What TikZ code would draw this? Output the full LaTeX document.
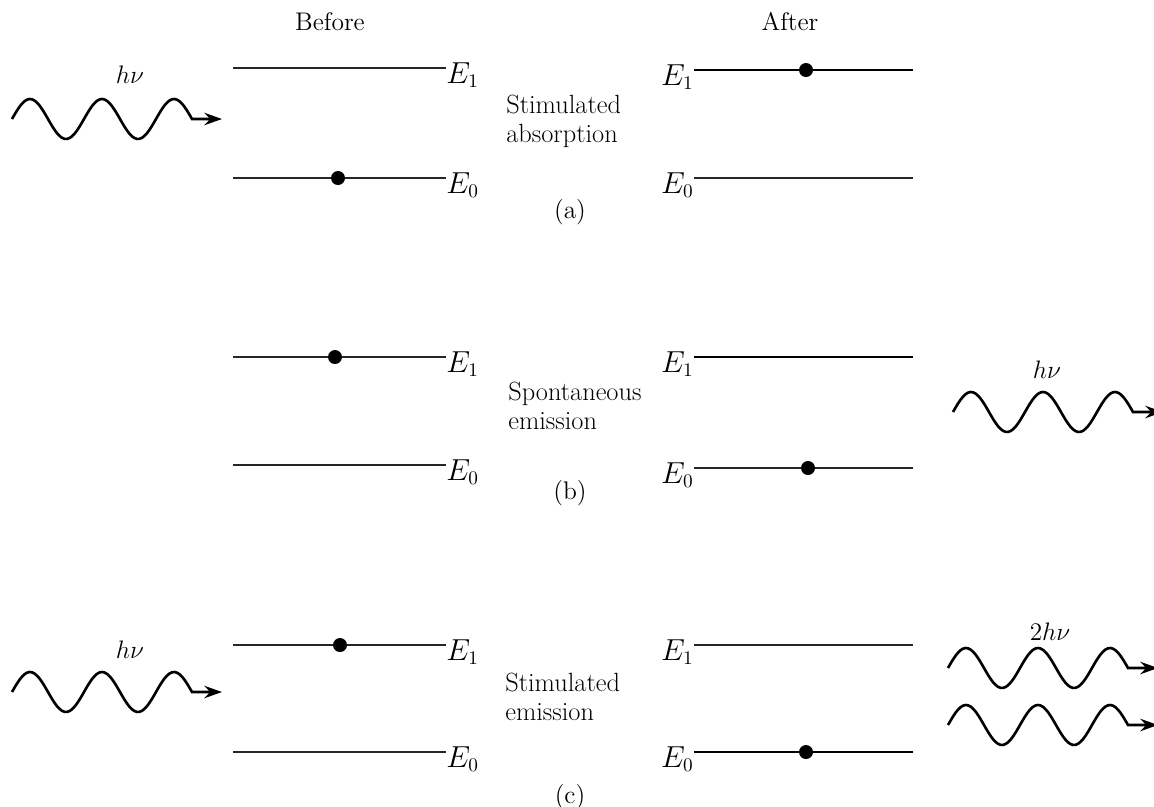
\documentclass[tikz,border=0pt]{standalone}
\usetikzlibrary{arrows.meta}
\tikzset{
    level/.style={line width=0.9pt, black!85},
    thicklevel/.style={line width=1.5pt, black},
    electron/.style={circle, fill=black, inner sep=0pt, minimum size=0.28cm},
    elabel/.style={inner sep=0pt, font=\fontsize{16}{18}\selectfont},
    caption/.style={align=left, inner sep=0pt, font=\fontsize{15}{16.5}\selectfont},
    title/.style={font=\fontsize{14.5}{16}\selectfont},
    photon/.style={line width=1.5pt, -{Stealth[length=10pt,width=7pt]}},
}
% wave of light: 2.5 periods, then a short straight piece with the arrow
\newcommand{\photonwave}[1]{%
    \draw[photon, shift={(#1)}] plot[domain=0:180, samples=73, smooth] (\x, {-20*sin(5*\x)}) -- ++(30,0);
}
\begin{document}
\begin{tikzpicture}[x=0.02cm, y=-0.02cm]
    \useasboundingbox (0,0) rectangle (1154,806);

    \node[title] (before) at (330,22) {Before};
    \node[title] (after) at (790,22) {After};

    % (a) stimulated absorption
    \coordinate (wa) at (12,119);
    \photonwave{wa}
    \node[title] (hva) at (130,75) {$h\nu$};
    \coordinate (aB1) at (233,68);
    \coordinate (aB0) at (233,178);
    \node[elabel, anchor=north west] (aBE1) at (446,62) {$E_1$};
    \node[elabel, anchor=north west] (aBE0) at (446,172) {$E_0$};
    \draw[level] (aB1) -- (aB1 -| aBE1.west);
    \draw[level] (aB0) -- (aB0 -| aBE0.west);
    \node[electron] (adotB) at (338,178) {};
    \node[caption, anchor=west] (capa) at (506,121) {Stimulated\\absorption};
    \node[title] (taga) at (570,212) {(a)};
    \coordinate (aA1) at (913,70);
    \coordinate (aA0) at (913,178);
    \node[elabel, anchor=north east] (aAE1) at (694,64) {$E_1$};
    \node[elabel, anchor=north east] (aAE0) at (694,172) {$E_0$};
    \draw[thicklevel] (aA1) -- (aA1 -| aAE1.east);
    \draw[level] (aA0) -- (aA0 -| aAE0.east);
    \node[electron] (adotA) at (806,70) {};

    % (b) spontaneous emission
    \coordinate (bB1) at (233,357);
    \coordinate (bB0) at (233,465);
    \node[elabel, anchor=north west] (bBE1) at (446,351) {$E_1$};
    \node[elabel, anchor=north west] (bBE0) at (446,459) {$E_0$};
    \draw[level] (bB1) -- (bB1 -| bBE1.west);
    \draw[level] (bB0) -- (bB0 -| bBE0.west);
    \node[electron] (bdotB) at (335,357) {};
    \node[caption, anchor=west] (capb) at (508,406) {Spontaneous\\emission};
    \node[title] (tagb) at (570,493) {(b)};
    \coordinate (bA1) at (913,357);
    \coordinate (bA0) at (913,468);
    \node[elabel, anchor=north east] (bAE1) at (694,351) {$E_1$};
    \node[elabel, anchor=north east] (bAE0) at (694,462) {$E_0$};
    \draw[thicklevel] (bA1) -- (bA1 -| bAE1.east);
    \draw[level] (bA0) -- (bA0 -| bAE0.east);
    \node[electron] (bdotA) at (808,468) {};
    \coordinate (wb) at (953,412);
    \photonwave{wb}
    \node[title] (hvb) at (1047,370) {$h\nu$};

    % (c) stimulated emission
    \coordinate (wc) at (12,692);
    \photonwave{wc}
    \node[title] (hvc) at (130,650) {$h\nu$};
    \coordinate (cB1) at (233,645);
    \coordinate (cB0) at (233,752);
    \node[elabel, anchor=north west] (cBE1) at (446,639) {$E_1$};
    \node[elabel, anchor=north west] (cBE0) at (446,746) {$E_0$};
    \draw[level] (cB1) -- (cB1 -| cBE1.west);
    \draw[level] (cB0) -- (cB0 -| cBE0.west);
    \node[electron] (cdotB) at (340,645) {};
    \node[caption, anchor=west] (capc) at (505,697) {Stimulated\\emission};
    \node[title] (tagc) at (570,797) {(c)};
    \coordinate (cA1) at (913,645);
    \coordinate (cA0) at (913,752);
    \node[elabel, anchor=north east] (cAE1) at (694,639) {$E_1$};
    \node[elabel, anchor=north east] (cAE0) at (694,746) {$E_0$};
    \draw[level] (cA1) -- (cA1 -| cAE1.east);
    \draw[thicklevel] (cA0) -- (cA0 -| cAE0.east);
    \node[electron] (cdotA) at (806,752) {};
    \coordinate (wc1) at (948,668);
    \coordinate (wc2) at (948,725);
    \photonwave{wc1}
    \photonwave{wc2}
    \node[title] (hvc2) at (1050,632) {$2h\nu$};
\end{tikzpicture}
\end{document}
